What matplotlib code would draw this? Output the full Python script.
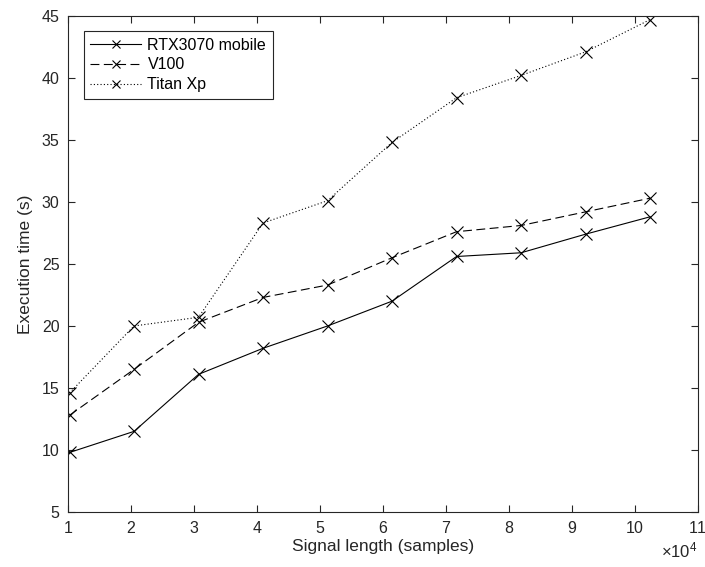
import matplotlib
matplotlib.use("Agg")
import matplotlib.pyplot as plt
from matplotlib.ticker import ScalarFormatter

plt.rcParams['font.family'] = ['Liberation Sans', 'DejaVu Sans']
plt.rcParams['mathtext.fontset'] = 'custom'
plt.rcParams['mathtext.rm'] = 'Liberation Sans'
plt.rcParams['mathtext.it'] = 'Liberation Sans'

# Data
signal_length = [10240, 20480, 30720, 40960, 51200, 61440, 71680, 81920, 92160, 102400]
rtx3070 = [9.8, 11.5, 16.1, 18.2, 20.0, 22.0, 25.6, 25.9, 27.4, 28.8]
v100 = [12.8, 16.5, 20.3, 22.3, 23.3, 25.5, 27.6, 28.1, 29.2, 30.3]
titan_xp = [14.6, 20.0, 20.7, 28.3, 30.1, 34.8, 38.4, 40.2, 42.1, 44.7]

axis_col = '#262626'

fig = plt.figure(figsize=(7.05, 5.67), dpi=100)
ax = fig.add_axes([0.0965, 0.097, 0.8935, 0.875])

style = dict(color='black', linewidth=0.8, marker='x', markersize=8, markeredgewidth=0.8)
ax.plot(signal_length, rtx3070, linestyle='-', label='RTX3070 mobile', **style)
ax.plot(signal_length, v100, linestyle=(0, (8, 4)), label='V100', **style)
ax.plot(signal_length, titan_xp, linestyle=(0, (1, 2)), label='Titan Xp', **style)

ax.set_xlim(10000, 110000)
ax.set_ylim(5, 45)
ax.set_xticks(range(10000, 110001, 10000))
ax.set_yticks(range(5, 46, 5))

# fixed x10^4 exponent like the original
fmt = ScalarFormatter(useMathText=True)
fmt.set_powerlimits((4, 4))
ax.xaxis.set_major_formatter(fmt)
ax.xaxis.get_offset_text().set_fontsize(12)
ax.xaxis.get_offset_text().set_color(axis_col)

ax.tick_params(direction='in', top=True, right=True, length=5, width=0.8,
               colors=axis_col, labelsize=11.5, pad=6)
for s in ax.spines.values():
    s.set_color(axis_col)
    s.set_linewidth(0.8)

ax.set_xlabel('Signal length (samples)', fontsize=12.5, color=axis_col, labelpad=2)
ax.set_ylabel('Execution time (s)', fontsize=12.5, color=axis_col, labelpad=6)

leg = ax.legend(loc='upper left', bbox_to_anchor=(0.012, 0.985), fontsize=11.5,
                fancybox=False, framealpha=1, edgecolor=axis_col, handlelength=3.2,
                handletextpad=0.4, borderpad=0.4, labelspacing=0.3, markerscale=0.8)
leg.get_frame().set_linewidth(0.8)

fig.savefig('out.png', dpi=100)
